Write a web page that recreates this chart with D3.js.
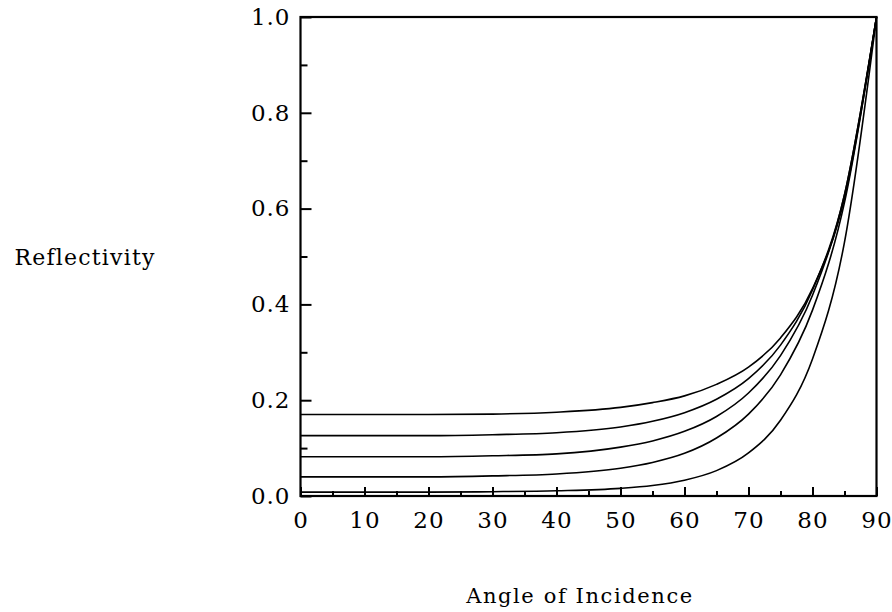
<!DOCTYPE html>
<html>
<head>
<meta charset="utf-8">
<script src="https://cdn.jsdelivr.net/npm/d3@7"></script>
<style>
body { margin: 0; background: #fff; }
svg text { font-family: "DejaVu Serif", "Liberation Serif", "Times New Roman", serif; fill: #000; }
</style>
</head>
<body>
<div id="chart"></div>
<script>
// angles (degrees) and reflectivity, one array per curve
var angles = [0, 10, 20, 30, 40, 50, 55, 60, 65, 70, 75, 80, 85, 90];
var curveA = [0.170, 0.170, 0.170, 0.171, 0.175, 0.185, 0.195, 0.209, 0.233, 0.269, 0.330, 0.433, 0.622, 1.0];
var curveB = [0.126, 0.126, 0.126, 0.128, 0.132, 0.144, 0.156, 0.174, 0.202, 0.245, 0.315, 0.430, 0.629, 1.0];
var curveC = [0.082, 0.082, 0.082, 0.084, 0.088, 0.102, 0.115, 0.135, 0.166, 0.215, 0.293, 0.419, 0.629, 1.0];
var curveD = [0.040, 0.040, 0.040, 0.042, 0.046, 0.058, 0.070, 0.089, 0.121, 0.171, 0.253, 0.388, 0.613, 1.0];
var curveE = [0.008, 0.008, 0.008, 0.009, 0.011, 0.016, 0.022, 0.033, 0.053, 0.090, 0.158, 0.286, 0.530, 1.0];
var xTicks = [0, 10, 20, 30, 40, 50, 60, 70, 80, 90];
var yTicks = [0.0, 0.2, 0.4, 0.6, 0.8, 1.0];

var width = 892, height = 612;
var margin = {t: 17, r: 15.5, b: 116, l: 300.5};

var svg = d3.select("#chart").append("svg")
    .attr("width", width)
    .attr("height", height);

var x = d3.scaleLinear().domain([0, 90]).range([margin.l, width - margin.r]);
var y = d3.scaleLinear().domain([0, 1]).range([height - margin.b, margin.t]);

// curves
var line = d3.line()
    .x(function(d, i) { return x(angles[i]); })
    .y(function(d) { return y(d); })
    .curve(d3.curveMonotoneX);

svg.selectAll(".curve")
    .data([curveA, curveB, curveC, curveD, curveE])
    .enter().append("path")
    .attr("class", "curve")
    .attr("d", line)
    .attr("fill", "none")
    .attr("stroke", "#000")
    .attr("stroke-width", 1.6);

// bottom axis: major ticks inward, minor ticks between
svg.append("g")
    .attr("transform", "translate(0," + y(0) + ")")
    .call(d3.axisBottom(x).tickValues(xTicks).tickSize(-9).tickPadding(16).tickFormat(d3.format("d")));
svg.append("g")
    .attr("transform", "translate(0," + y(0) + ")")
    .call(d3.axisBottom(x).tickValues(d3.range(5, 90, 10)).tickSize(-5).tickFormat(""));

svg.append("g")
    .attr("transform", "translate(" + x(0) + ",0)")
    .call(d3.axisLeft(y).tickValues(yTicks).tickSize(-11).tickPadding(10).tickFormat(d3.format(".1f")));
svg.append("g")
    .attr("transform", "translate(" + x(0) + ",0)")
    .call(d3.axisLeft(y).tickValues([0.1, 0.3, 0.5, 0.7, 0.9]).tickSize(-7).tickFormat(""));

svg.selectAll(".domain").remove();
svg.selectAll("g").attr("font-family", null);
svg.selectAll(".tick line").attr("stroke", "#000").attr("stroke-width", 2);
svg.selectAll(".tick text")
    .attr("font-size", 23)
    .style("letter-spacing", "1px");

// frame
svg.append("rect")
    .attr("x", x(0)).attr("y", y(1))
    .attr("width", x(90) - x(0)).attr("height", y(0) - y(1))
    .attr("fill", "none")
    .attr("stroke", "#000")
    .attr("stroke-width", 2.2);

// axis titles
svg.append("text")
    .attr("x", 85).attr("y", 265)
    .attr("text-anchor", "middle")
    .attr("font-size", 22)
    .style("letter-spacing", "1.2px")
    .text("Reflectivity");

svg.append("text")
    .attr("x", 580).attr("y", 603)
    .attr("text-anchor", "middle")
    .attr("font-size", 21)
    .style("letter-spacing", "1.6px")
    .text("Angle of Incidence");
</script>
</body>
</html>
